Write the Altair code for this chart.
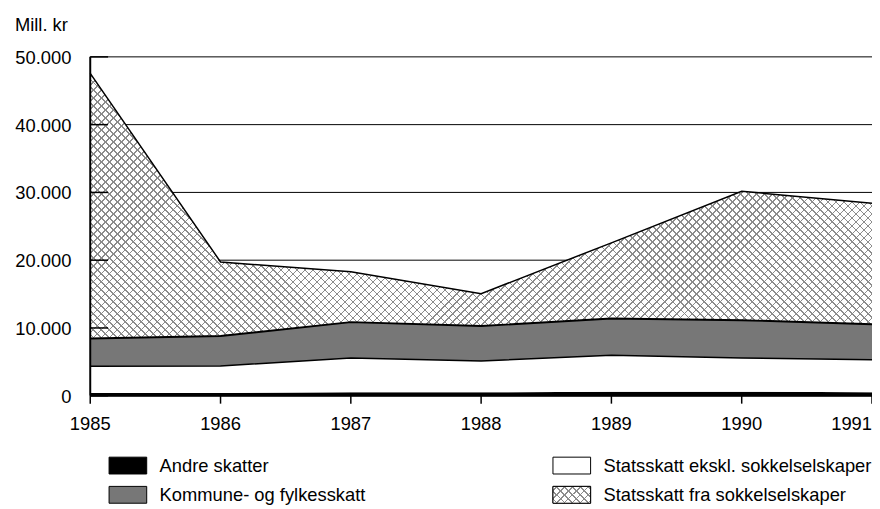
import math
import altair as alt
import pandas as pd

# ---- data (Mill. kr) ----
years = [1985, 1986, 1987, 1988, 1989, 1990, 1991]
andre_skatter = [400, 400, 500, 500, 600, 600, 500]
statsskatt_ekskl = [3940, 3990, 5060, 4620, 5390, 4960, 4810]
kommune_fylke = [4100, 4430, 5300, 5160, 5410, 5590, 5220]
statsskatt_sokkel = [39120, 10920, 7420, 4780, 11160, 19010, 17870]

y_ticks = [0, 10000, 20000, 30000, 40000, 50000]
x_ticks = years
y_title = "Mill. kr"

legend_labels = [
    "Andre skatter",
    "Statsskatt ekskl. sokkelselskaper",
    "Kommune- og fylkesskatt",
    "Statsskatt fra sokkelselskaper",
]
legend_col = [0, 1, 0, 1]
legend_row = [0, 0, 1, 1]

# ---- layout / style ----
W, H = 789, 342
Y_MAX = 50000
FONT = "Liberation Sans, Arial, Helvetica, sans-serif"
FS = 18.5
GRAY = "#777777"
INK = "#8c8c8c"
CLEAR = "rgba(255,255,255,0)"


def hatch(w, h, spacing, lw, direction, ink, bg):
    """Linear gradient made of hard stops -> diagonal stripes at 45deg in pixel space."""
    L = w + h
    r = h / w
    k = (1 + r) / (1 + r * r)
    if direction == "a":
        x1, y1, x2, y2 = 0, 0, k, k * r
    else:
        x1, y1, x2, y2 = 0, 1, k, 1 - k * r
    step = spacing * math.sqrt(2) / L
    half = lw * math.sqrt(2) / L / 2
    stops = [{"offset": 0, "color": bg}]
    t = step / 2
    while t + half < 1:
        a, b = round(t - half, 6), round(t + half, 6)
        stops += [
            {"offset": a, "color": bg},
            {"offset": a, "color": ink},
            {"offset": b, "color": ink},
            {"offset": b, "color": bg},
        ]
        t += step
    stops.append({"offset": 1, "color": bg})
    return {"gradient": "linear", "x1": x1, "y1": y1, "x2": x2, "y2": y2, "stops": stops}


# ---- tables built from the arrays ----
df = pd.DataFrame({"year": years})
df["a0"] = 0
df["a1"] = pd.Series(andre_skatter)
df["b1"] = df["a1"] + pd.Series(statsskatt_ekskl)
df["c1"] = df["b1"] + pd.Series(kommune_fylke)
df["d1"] = df["c1"] + pd.Series(statsskatt_sokkel)

ticks_df = pd.DataFrame({"v": y_ticks})
ticks_df["lbl"] = [f"{v:,}".replace(",", ".") for v in y_ticks]
xt_df = pd.DataFrame({"year": x_ticks, "lbl": [str(y) for y in x_ticks]})
leg_df = pd.DataFrame({"label": legend_labels, "col": legend_col, "row": legend_row})
title_df = pd.DataFrame({"t": [y_title]})

# bbox of hatched area (pixels) for the gradient geometry
sok_h = (df["d1"].max() - df["c1"].min()) / Y_MAX * H
hatch_a = hatch(W, sok_h, 5.7, 1.0, "a", INK, "white")
hatch_b = hatch(W, sok_h, 5.7, 1.0, "b", INK, CLEAR)
sw_w, sw_h = 38, 17
leg_hatch_a = hatch(sw_w, sw_h, 5.7, 1.0, "a", INK, "white")
leg_hatch_b = hatch(sw_w, sw_h, 5.7, 1.0, "b", INK, CLEAR)

xs = alt.Scale(domain=[1985, 1991], nice=False, zero=False)
ys = alt.Scale(domain=[0, Y_MAX], nice=False)
X = lambda: alt.X("year:Q", scale=xs, axis=None)
YV = lambda: alt.Y("v:Q", scale=ys, axis=None)

grid = alt.Chart(ticks_df).mark_rule(color="black", strokeWidth=1).encode(y=YV())


def band(lo, hi, fill):
    return alt.Chart(df).mark_area(fill=fill, opacity=1, strokeWidth=0).encode(
        x=X(), y=alt.Y(f"{lo}:Q", scale=ys, axis=None), y2=f"{hi}:Q",
    )


a_andre = band("a0", "a1", "black")
a_stat = band("a1", "b1", "white")
a_kom = band("b1", "c1", GRAY)
a_sok_a = band("c1", "d1", hatch_a)
a_sok_b = band("c1", "d1", hatch_b)


def edge(col, w):
    return alt.Chart(df).mark_line(color="black", strokeWidth=w).encode(
        x=X(), y=alt.Y(f"{col}:Q", scale=ys, axis=None)
    )


# ---- hand-drawn axes (through the same scales) ----
y_inner_ticks = alt.Chart(ticks_df).mark_rule(color="black", strokeWidth=1.5).encode(
    y=YV(), x=alt.value(0), x2=alt.value(18)
)
y_domain = alt.Chart(ticks_df).mark_rule(color="black", strokeWidth=2).encode(
    y=alt.Y("min(v):Q", scale=ys, axis=None), y2="max(v):Q", x=alt.value(0)
)
y_labels = alt.Chart(ticks_df).mark_text(
    align="right", baseline="middle", font=FONT, fontSize=FS, color="black", dy=1
).encode(y=YV(), x=alt.value(-19), text="lbl:N")
y_title_mark = alt.Chart(title_df).mark_text(
    align="left", baseline="middle", font=FONT, fontSize=FS, color="black"
).encode(x=alt.value(-76), y=alt.value(-32), text="t:N")

x_domain = alt.Chart(xt_df).mark_rule(color="black", strokeWidth=2).encode(
    x=alt.X("min(year):Q", scale=xs, axis=None), x2="max(year):Q", y=alt.value(H)
)
x_tick_marks = alt.Chart(xt_df).mark_rule(color="black", strokeWidth=1.5).encode(
    x=X(), y=alt.value(H), y2=alt.value(H + 8)
)
x_labels_mid = alt.Chart(xt_df.iloc[:-1]).mark_text(
    align="center", baseline="top", font=FONT, fontSize=FS, color="black"
).encode(x=X(), y=alt.value(H + 20), text="lbl:N")
x_label_last = alt.Chart(xt_df.iloc[-1:]).mark_text(
    align="right", baseline="top", font=FONT, fontSize=FS, color="black"
).encode(x=X(), y=alt.value(H + 20), text="lbl:N")

# ---- legend (placed in the bottom margin, pixel layout from col/row) ----
leg_base = alt.Chart(leg_df).transform_calculate(
    px="38 + datum.col * 448", py="412.5 + datum.row * 29.5"
)
lx = alt.X("px:Q", scale=None, axis=None)
ly = alt.Y("py:Q", scale=None, axis=None)
SHAPE = "M-1,-0.447H1V0.447H-1Z"

sw_solid = leg_base.mark_point(
    shape=SHAPE, size=sw_w * sw_w, filled=True, opacity=1, fillOpacity=1,
    stroke="black", strokeWidth=1,
).encode(
    x=lx, y=ly,
    fill=alt.Fill("label:N", scale=alt.Scale(domain=legend_labels,
                                              range=["black", "white", GRAY, "white"]),
                  legend=None),
)
sw_hatch_a = leg_base.transform_filter(
    alt.datum.label == legend_labels[3]
).mark_point(shape=SHAPE, size=sw_w * sw_w, filled=True, opacity=1, fill=leg_hatch_a,
             strokeWidth=0).encode(x=lx, y=ly)
sw_hatch_b = leg_base.transform_filter(
    alt.datum.label == legend_labels[3]
).mark_point(shape=SHAPE, size=sw_w * sw_w, filled=True, opacity=1, fill=leg_hatch_b,
             stroke="black", strokeWidth=1, strokeOpacity=1).encode(x=lx, y=ly)
leg_text = leg_base.mark_text(
    align="left", baseline="middle", dx=32, font=FONT, fontSize=FS, color="black"
).encode(x=lx, y=ly, text="label:N")

chart = alt.layer(
    grid, a_andre, a_stat, a_kom, a_sok_a, a_sok_b,
    edge("b1", 1.5), edge("c1", 2), edge("d1", 1.5),
    y_inner_ticks, y_domain, y_labels, y_title_mark,
    x_domain, x_tick_marks, x_labels_mid, x_label_last,
    sw_solid, sw_hatch_a, sw_hatch_b, leg_text,
).properties(
    width=W, height=H,
    autosize=alt.AutoSizeParams(type="none"),
    padding={"left": 83, "top": 47, "right": 0, "bottom": 112},
    background="white",
).configure_view(stroke=None)

chart.save("out.html", embed_options={"renderer": "svg", "actions": False})
